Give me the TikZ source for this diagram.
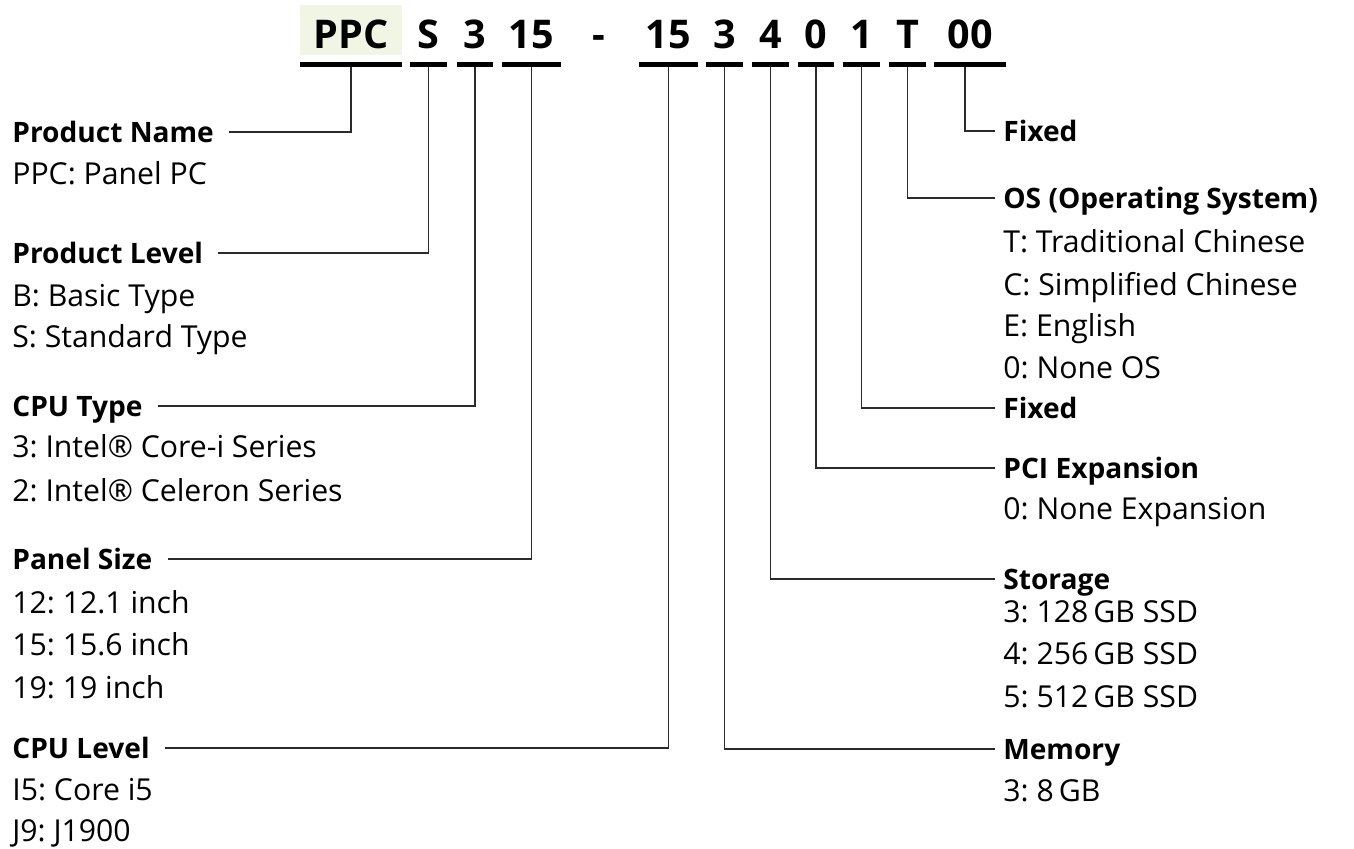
\documentclass[tikz,border=0pt]{standalone}
\usepackage{fontspec}
\setmainfont{Open Sans}
\usetikzlibrary{positioning}
\definecolor{codebg}{HTML}{F1F6E4}
\definecolor{wire}{HTML}{2B2B2B}
\frenchspacing

\tikzset{
  code/.style={font=\fontsize{22.5}{24}\selectfont\bfseries, inner sep=0pt, text height=16pt, text depth=0pt},
  codebar/.style={fill=black, inner sep=0pt, minimum height=0.1cm},
  head/.style={anchor=west, inner sep=0pt, font=\fontsize{16}{19}\selectfont\bfseries, text height=11.4pt, text depth=0pt},
  item/.style={anchor=west, inner sep=0pt, font=\fontsize{17.2}{20}\selectfont, text height=12.2pt, text depth=0pt},
  link/.style={draw=wire, line width=0.7pt}
}

\begin{document}
\begin{tikzpicture}[x=0.02cm, y=-0.02cm]

\useasboundingbox (0,0) rectangle (1354,848);

\fill[codebg] (300,5) rectangle (402,55);

\node[codebar, minimum width=2.04cm] (bPPC) at (351,64.5) {};
\node[codebar, minimum width=0.74cm] (bLvl) at (428.5,64.5) {};
\node[codebar, minimum width=0.72cm] (bType) at (475,64.5) {};
\node[codebar, minimum width=1.18cm] (bSize) at (531.5,64.5) {};
\node[codebar, minimum width=1.18cm] (bCpu) at (668.5,64.5) {};
\node[codebar, minimum width=0.74cm] (bMem) at (724.5,64.5) {};
\node[codebar, minimum width=0.74cm] (bSto) at (770.5,64.5) {};
\node[codebar, minimum width=0.72cm] (bPci) at (816,64.5) {};
\node[codebar, minimum width=0.74cm] (bFix) at (861.5,64.5) {};
\node[codebar, minimum width=0.74cm] (bOs) at (907.5,64.5) {};
\node[codebar, minimum width=1.44cm] (bEnd) at (970,64.5) {};

\node[code, above=0.26cm of bPPC] (cPPC) {PPC};
\node[code, above=0.26cm of bLvl] (cLvl) {S};
\node[code, above=0.26cm of bType] (cType) {3};
\node[code, above=0.26cm of bSize] (cSize) {15};
\node[code] (cDash) at (599,34) {-};
\node[code, above=0.26cm of bCpu] (cCpu) {15};
\node[code, above=0.26cm of bMem] (cMem) {3};
\node[code, above=0.26cm of bSto] (cSto) {4};
\node[code, above=0.26cm of bPci] (cPci) {0};
\node[code, above=0.26cm of bFix] (cFix) {1};
\node[code, above=0.26cm of bOs] (cOs) {T};
\node[code, above=0.26cm of bEnd] (cEnd) {00};

\node[head] (hName) at (12,132) {Product Name};
\node[item] (iName1) at (12,174) {PPC: Panel PC};

\node[head] (hLvl) at (12,253) {Product Level};
\node[item] (iLvl1) at (12,296) {B: Basic Type};
\node[item] (iLvl2) at (12,337) {S: Standard Type};

\node[head] (hType) at (12,406) {CPU Type};
\node[item] (iType1) at (12,447) {3: Intel® Core-i Series};
\node[item] (iType2) at (12,491) {2: Intel® Celeron Series};

\node[head] (hSize) at (12,559) {Panel Size};
\node[item] (iSize1) at (12,603) {12: 12.1 inch};
\node[item] (iSize2) at (12,645) {15: 15.6 inch};
\node[item] (iSize3) at (12,688) {19: 19 inch};

\node[head] (hCpu) at (12,748) {CPU Level};
\node[item] (iCpu1) at (12,790) {I5: Core i5};
\node[item] (iCpu2) at (12,831) {J9: J1900};

\node[head] (hEnd) at (1003,131) {Fixed};

\node[head] (hOs) at (1003,198) {OS (Operating System)};
\node[item] (iOs1) at (1003,242) {T: Traditional Chinese};
\node[item] (iOs2) at (1003,285) {C: Simplified Chinese};
\node[item] (iOs3) at (1003,326) {E: English};
\node[item] (iOs4) at (1003,368) {0: None OS};

\node[head] (hFix) at (1003,408) {Fixed};

\node[head] (hPci) at (1003,468) {PCI Expansion};
\node[item] (iPci1) at (1003,509) {0: None Expansion};

\node[head] (hSto) at (1003,579) {Storage};
\node[item] (iSto1) at (1003,612) {3: 128\,GB SSD};
\node[item] (iSto2) at (1003,654) {4: 256\,GB SSD};
\node[item] (iSto3) at (1003,697) {5: 512\,GB SSD};

\node[head] (hMem) at (1003,749) {Memory};
\node[item] (iMem1) at (1003,791) {3: 8\,GB};

\draw[link] (bPPC.south) |- ([xshift=0.3cm]hName.east);
\draw[link] (bLvl.south) |- ([xshift=0.3cm]hLvl.east);
\draw[link] (bType.south) |- ([xshift=0.3cm]hType.east);
\draw[link] (bSize.south) |- ([xshift=0.3cm]hSize.east);
\draw[link] (bCpu.south) |- ([xshift=0.3cm]hCpu.east);

\draw[link] ([xshift=-0.1cm]bEnd.south) |- ([xshift=-0.16cm]hEnd.west);
\draw[link] (bOs.south) |- ([xshift=-0.16cm]hOs.west);
\draw[link] (bFix.south) |- ([xshift=-0.16cm]hFix.west);
\draw[link] (bPci.south) |- ([xshift=-0.16cm]hPci.west);
\draw[link] (bSto.south) |- ([xshift=-0.16cm]hSto.west);
\draw[link] (bMem.south) |- ([xshift=-0.16cm]hMem.west);

\end{tikzpicture}
\end{document}
